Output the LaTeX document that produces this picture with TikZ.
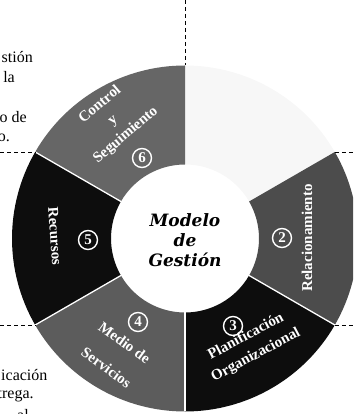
\documentclass[tikz,border=0pt]{standalone}
\usepackage{fontspec}
\setmainfont{Liberation Serif}
\newfontfamily\ctrfont{DejaVu Serif}
\usetikzlibrary{calc}
\begin{document}
\begin{tikzpicture}[x=1pt,y=1pt,
  seglabel/.style={text=white, align=center, font=\fontsize{15}{20}\selectfont\bfseries, inner sep=0pt},
  numcirc/.style={circle, draw=white, line width=1.4pt, text=white, minimum size=19pt, inner sep=0pt, font=\fontsize{15}{15}\selectfont\bfseries},
  sidetext/.style={font=\fontsize{16}{18}\selectfont, inner sep=0pt},
  guide/.style={dash pattern=on 4pt off 3pt, line width=0.8pt},
  sepline/.style={white, line width=1.3pt}]
\useasboundingbox (0,0) rectangle (353,414);
\clip (0,0) rectangle (353,414);
\coordinate (C) at (185,175.5);
\def\Ro{173}
\def\Ri{74}
\newcommand\ringseg[3]{\fill[#3] ($(C)+(#1:\Ro pt)$) arc[start angle=#1,end angle=#2,radius=\Ro pt] -- ($(C)+(#2:\Ri pt)$) arc[start angle=#2,end angle=#1,radius=\Ri pt] -- cycle;}
\ringseg{30}{90}{black!3}
\ringseg{-30}{30}{black!70}
\ringseg{-90}{-30}{black!95}
\ringseg{-150}{-90}{black!64}
\ringseg{150}{210}{black!95}
\ringseg{90}{150}{black!60}
\foreach \a in {150,210,270,330}{
  \draw[sepline] ($(C)+(\a:\Ri pt)$) -- ($(C)+(\a:\Ro pt)$);
}
% guide lines
\coordinate (gtop) at ($(C)+(90:\Ro pt)$);
\coordinate (gtl) at ($(C)+(150:\Ro pt)$);
\coordinate (gbl) at ($(C)+(210:\Ro pt)$);
\coordinate (gtr) at ($(C)+(30:\Ro pt)$);
\coordinate (gbr) at ($(C)+(330:\Ro pt)$);
\coordinate (etop) at (185,414);
\coordinate (etl) at (0,262);
\coordinate (ebl) at (0,89);
\coordinate (etr) at (353,262);
\coordinate (ebr) at (353,89);
\draw[guide] (etop) -- (gtop);
\draw[guide] (etl) -- (gtl);
\draw[guide] (ebl) -- (gbl);
\draw[guide] (gtr) -- (etr);
\draw[guide] (gbr) -- (ebr);
% centre
\node[align=center, inner sep=0pt, font=\ctrfont\fontsize{17}{20}\selectfont\bfseries\itshape] (model) at (185,174) {Modelo\\de\\Gestión};
% segment 6
\node[seglabel, rotate=40] (control) at (113,294) {Control\\y\\Seguimiento};
\node[numcirc] (n6) at (142,256) {6};
% segment 5
\node[seglabel, rotate=-86] (recursos) at (55,178) {Recursos};
\node[numcirc] (n5) at (88,174) {5};
% segment 4
\node[seglabel, rotate=-36, font=\fontsize{15}{31}\selectfont\bfseries] (medio) at (115.5,59) {Medio de\\Servicios};
\node[numcirc] (n4) at (138,92) {4};
% segment 3
\node[seglabel, rotate=28, font=\fontsize{15}{21}\selectfont\bfseries] (planif) at (251,68) {Planificación\\Organizacional};
\node[numcirc] (n3) at (233,88) {3};
% segment 2
\node[seglabel, rotate=90] (relac) at (307,176) {Relacionamiento};
\node[numcirc] (n2) at (282,176) {2};
% side texts
\node[sidetext, anchor=base east] (t1) at (33,351.3) {stión};
\node[sidetext, anchor=base east] (t2) at (15,331.3) {la};
\node[sidetext, anchor=base east] (t3) at (27,291) {o de};
\node[sidetext, anchor=base east] (t4) at (10,272) {o.};
\node[sidetext, anchor=base west] (b1) at (1,33) {icación};
\node[sidetext, anchor=base west] (b2) at (-2.5,16) {trega.};
\node[sidetext, anchor=base west] (b3) at (17,-6) {al};
\end{tikzpicture}
\end{document}
